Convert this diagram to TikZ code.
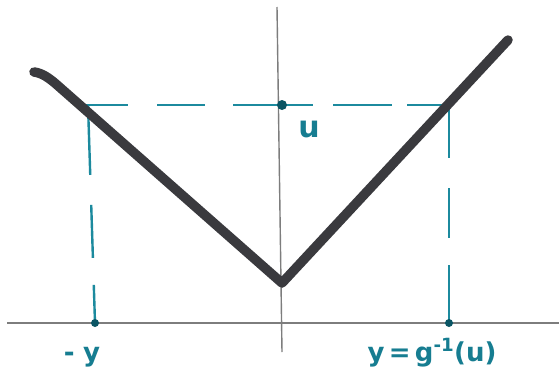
\documentclass[tikz,border=0pt]{standalone}
\usepackage{fontspec}
\setmainfont{DejaVu Sans}
\begin{document}
\begin{tikzpicture}[x=1pt,y=-1pt,
  axisline/.style={draw=axisgray,line width=1.4pt},
  curveline/.style={draw=curvegray,line width=9.5pt,line cap=round,line join=round},
  guide/.style={draw=tealline,line width=2.4pt},
  dotmark/.style={circle,fill=tealdot,inner sep=0pt,minimum size=10pt},
  lbl/.style={text=tealtext,font=\bfseries\fontsize{26}{28}\selectfont,inner sep=0pt}]
\definecolor{axisgray}{RGB}{125,125,125}
\definecolor{curvegray}{RGB}{58,58,62}
\definecolor{tealline}{RGB}{28,138,158}
\definecolor{tealdot}{RGB}{10,85,100}
\definecolor{tealtext}{RGB}{22,125,145}
\useasboundingbox (0,0) rectangle (559,388);
\fill[white] (0,0) rectangle (559,388);
% axes
\coordinate (xl) at (7,323);
\coordinate (xr) at (559,323);
\coordinate (yt) at (277,7);
\coordinate (yb) at (282,352);
\draw[axisline] (xl) -- (xr);
\draw[axisline] (yt) -- (yb);
% key points
\coordinate (L) at (34,72);
\coordinate (Lk) at (56,84);
\coordinate (V) at (282,283);
\coordinate (R) at (508,40);
\coordinate (cl) at (80,105);
\coordinate (clv) at (88,105);
\coordinate (cr) at (449,105);
% dashed guides
\draw[guide,dash pattern=on 48pt off 29pt on 48pt off 28pt on 80pt off 20pt on 59pt off 15pt on 80pt] (cl) -- (cr);
\draw[guide,dash pattern=on 70pt off 30pt on 53pt off 27pt on 60pt] (clv) -- (95,323) coordinate (yn);
\draw[guide,dash pattern=on 53pt off 30pt on 50pt off 27pt on 80pt] (cr) -- (449,323) coordinate (yp);
% curve
\draw[curveline] (L) .. controls (42,73) and (49,78) .. (Lk) -- (V) -- (R);
% dots
\node[dotmark] (du) at (282,105) {};
\node[dotmark,minimum size=8pt] (dyn) at (yn) {};
\node[dotmark,minimum size=8pt] (dyp) at (yp) {};
% labels
\node[lbl,anchor=base,font=\bfseries\fontsize{30}{32}\selectfont] (tu) at (309,137) {u};
\node[lbl,anchor=base] (tyn) at (82,361) {-\,\,y};
\node[lbl,anchor=base] (typ) at (432,361) {y\,=\,g\textsuperscript{-1}(u)};
\end{tikzpicture}
\end{document}
